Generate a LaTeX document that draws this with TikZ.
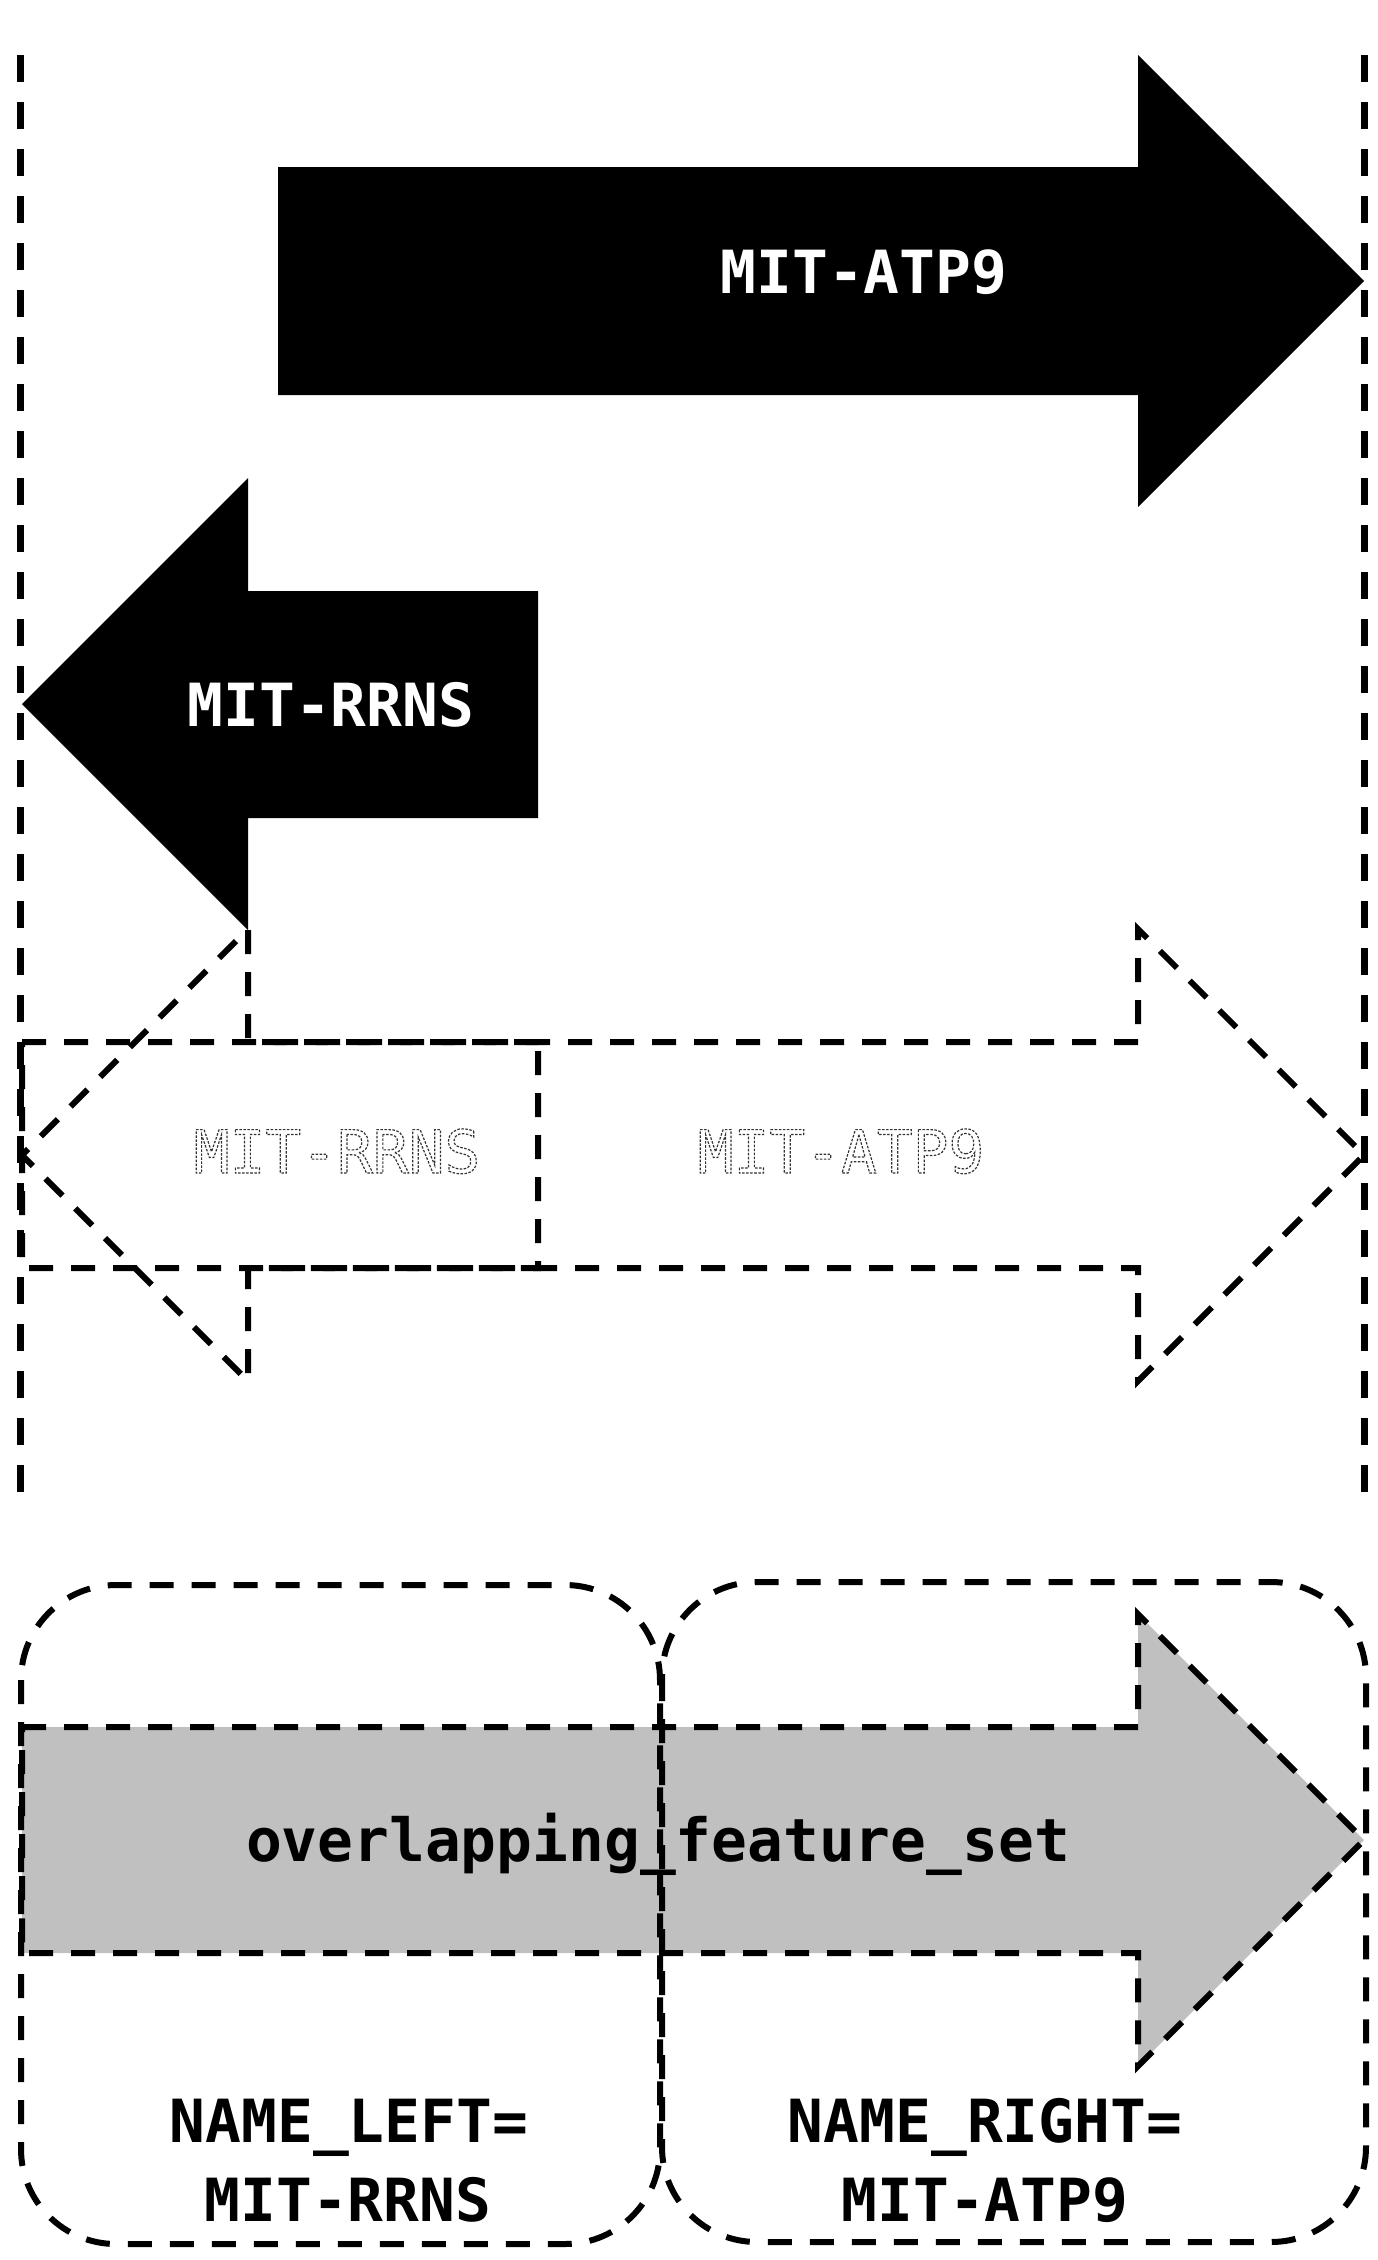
\documentclass[tikz,border=0pt]{standalone}
\usepackage{fontspec}
\setmonofont{DejaVu Sans Mono}
\newcommand\outlinetext[1]{\special{pdf:code 1 Tr 1.2 w [2.5 1.5] 0 d 0.2 G}#1\special{pdf:code 0 Tr [] 0 d}}
\tikzset{
  lbl/.style={inner sep=0pt, anchor=base, font=\fontsize{59.5}{79}\selectfont\ttfamily\bfseries},
  lblw/.style={lbl, text=white},
  lblo/.style={inner sep=0pt, anchor=base, font=\fontsize{59.5}{79}\selectfont\ttfamily},
  shapedash/.style={draw=black, line width=6pt, dash pattern=on 24pt off 18pt},
  guide/.style={draw=black, line width=7pt, dash pattern=on 27pt off 20pt},
}
\begin{document}
\begin{tikzpicture}[x=1pt,y=-1pt]
\useasboundingbox (0,0) rectangle (1377,2260);
% guides
\draw[guide] (20,55) -- (20,1492);
\draw[guide] (1364,55) -- (1364,1492);
% black arrows
\fill[black] (278,167) -- (1138,167) -- (1138,55) -- (1364,281) -- (1138,507) -- (1138,395) -- (278,395) -- cycle;
\fill[black] (538,591) -- (248,591) -- (248,478) -- (22,704) -- (248,930) -- (248,818) -- (538,818) -- cycle;
\node[lblw] (atpTop) at (864,293) {MIT-ATP9};
\node[lblw] (rrnsTop) at (331,726) {MIT-RRNS};
% dashed middle arrows
\draw[shapedash] (22,1042) -- (1138,1042) -- (1138,929) -- (1364,1155) -- (1138,1381) -- (1138,1268) -- (22,1268) -- cycle;
\draw[shapedash] (538,1042) -- (248,1042) -- (248,929) -- (22,1155) -- (248,1381) -- (248,1268) -- (538,1268) -- cycle;
% bottom grey arrow
\fill[fill={rgb,255:red,192;green,192;blue,192}] (22,1727) -- (1138,1727) -- (1138,1614) -- (1364,1840) -- (1138,2066) -- (1138,1953) -- (22,1953) -- cycle;
\draw[shapedash, rounded corners=95pt] (21,1585) rectangle (660,2244);
\draw[shapedash, rounded corners=95pt] (662,1582) rectangle (1366,2242);
\draw[shapedash] (22,1727) -- (1138,1727) -- (1138,1614) -- (1364,1840) -- (1138,2066) -- (1138,1953) -- (22,1953) -- cycle;
\node[lbl] (ofs) at (658,1861) {overlapping\_feature\_set};
\node[lbl] (nl1) at (349,2142) {NAME\_LEFT=};
\node[lbl] (nl2) at (348,2221) {MIT-RRNS};
\node[lbl] (nr1) at (985,2142) {NAME\_RIGHT=};
\node[lbl] (nr2) at (985,2221) {MIT-ATP9};
% outlined middle labels
\node[lblo] (rrnsMid) at (337,1173) {\outlinetext{MIT-RRNS}};
\node[lblo] (atpMid) at (841,1173) {\outlinetext{MIT-ATP9}};
\end{tikzpicture}
\end{document}
